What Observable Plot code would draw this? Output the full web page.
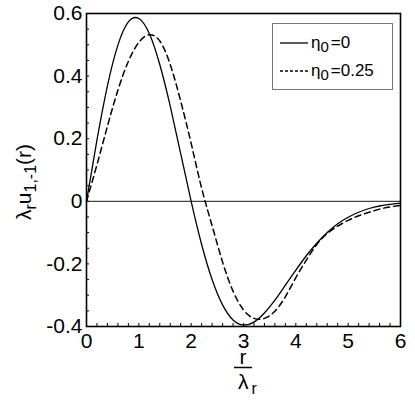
<!DOCTYPE html>
<html><head><meta charset="utf-8">
<script src="https://cdn.jsdelivr.net/npm/d3@7"></script>
<script src="https://cdn.jsdelivr.net/npm/@observablehq/plot@0.6"></script>
<style>body{margin:0;background:#fff;} #chart{position:relative;width:415px;height:405px;}</style>
</head><body><div id="chart"></div>
<script>
// r / lambda_r
const rValues = [0,0.2,0.4,0.6,0.8,1.0,1.2,1.4,1.6,1.8,2.0,2.2,2.4,2.6,2.8,3.0,3.2,3.4,3.6,3.8,4.0,4.2,4.4,4.6,4.8,5.0,5.2,5.4,5.6,5.8,6.0];
// eta0 = 0 (solid)
const uEta0 = [0,0.196,0.369,0.499,0.573,0.584,0.536,0.437,0.304,0.152,0,-0.138,-0.25,-0.331,-0.379,-0.395,-0.386,-0.357,-0.316,-0.268,-0.22,-0.174,-0.134,-0.1,-0.072,-0.051,-0.035,-0.023,-0.015,-0.01,-0.006];
// eta0 = 0.25 (dashed)
const uEta025 = [0,0.117,0.24,0.355,0.447,0.508,0.532,0.512,0.437,0.32,0.185,0.042,-0.078,-0.194,-0.287,-0.347,-0.374,-0.374,-0.351,-0.305,-0.244,-0.188,-0.138,-0.103,-0.079,-0.061,-0.046,-0.035,-0.025,-0.018,-0.013];
const seriesLabels = [["η", "0", "=0"], ["η", "0", "=0.25"]];
const xTicks = [0,1,2,3,4,5,6];
const yTicks = [-0.4,-0.2,0,0.2,0.4,0.6];

const solid = rValues.map((r,i)=>({r, u:uEta0[i]}));
const dashed = rValues.map((r,i)=>({r, u:uEta025[i]}));
const xMinor = d3.range(0, 6.0001, 0.2);
const yMinor = d3.range(-0.4, 0.6001, 0.05);

const font = "'Liberation Sans', Arial, sans-serif";
const chart = Plot.plot({
  width:415, height:405, marginLeft:86, marginRight:15, marginTop:13, marginBottom:79,
  style:{fontFamily:font, fontSize:"21px", color:"#000", background:"#fff", overflow:"visible"},
  x:{domain:[0,6], label:null}, y:{domain:[-0.4,0.6], label:null},
  marks:[
    Plot.ruleY([0], {stroke:"#444", strokeWidth:1.2}),
    Plot.line(solid, {x:"r", y:"u", stroke:"#000", strokeWidth:1.3, curve:"natural"}),
    Plot.line(dashed, {x:"r", y:"u", stroke:"#000", strokeWidth:1.5, strokeDasharray:"6,4", curve:"natural"}),
    Plot.axisX({ticks:xMinor, tickSize:-3, tickFormat:()=>"", label:null}),
    Plot.axisY({ticks:yMinor, tickSize:-3, tickFormat:()=>"", label:null}),
    Plot.axisX({ticks:xTicks, tickSize:0, tickPadding:7, tickFormat:d=>String(d), label:null}),
    Plot.axisY({ticks:yTicks, tickSize:0, tickPadding:4, tickFormat:d=>d===0?"0":d.toFixed(1), label:null}),
    Plot.frame({stroke:"#000", strokeWidth:1.6})
  ]
});
document.getElementById("chart").appendChild(chart);

const svg = d3.select(chart);
// y-axis title
const yt = svg.append("text").attr("transform","translate(31,182) rotate(-90)")
  .attr("text-anchor","middle").attr("font-family",font).attr("font-size",21).attr("fill","#000");
yt.append("tspan").text("λ");
yt.append("tspan").attr("dy",5).attr("font-size",16).text("r");
yt.append("tspan").attr("dy",-5).text("u");
yt.append("tspan").attr("dy",5).attr("font-size",16).text("1,-1");
yt.append("tspan").attr("dy",-5).text("(r)");
// x-axis title (fraction)
svg.append("text").attr("x",243).attr("y",364).attr("text-anchor","middle")
  .attr("font-family",font).attr("font-size",21).text("r");
svg.append("line").attr("x1",234).attr("x2",252).attr("y1",367.5).attr("y2",367.5).attr("stroke","#000").attr("stroke-width",1.5);
const xl = svg.append("text").attr("x",238).attr("y",389).attr("text-anchor","start").attr("font-family",font).attr("font-size",21);
xl.append("tspan").text("λ");
xl.append("tspan").attr("dy",5).attr("dx",3).attr("font-size",16).text("r");
// legend
const lg = svg.append("g");
lg.append("rect").attr("x",272.5).attr("y",23.5).attr("width",120).attr("height",66).attr("fill","#fff").attr("stroke","#777");
[[43,null,1.3],[71,"3,2",1.5]].forEach(([y,dash,w],i)=>{
  lg.append("line").attr("x1",280).attr("x2",308).attr("y1",y).attr("y2",y).attr("stroke","#000").attr("stroke-width",w).attr("stroke-dasharray",dash);
  const t = lg.append("text").attr("x",311).attr("y",y+5).attr("text-anchor","start").attr("font-family",font).attr("font-size",17);
  t.append("tspan").text(seriesLabels[i][0]);
  t.append("tspan").attr("dy",4).attr("font-size",15).text(seriesLabels[i][1]);
  t.append("tspan").attr("dy",-4).attr("dx",2).text(seriesLabels[i][2]);
});
</script></body></html>
